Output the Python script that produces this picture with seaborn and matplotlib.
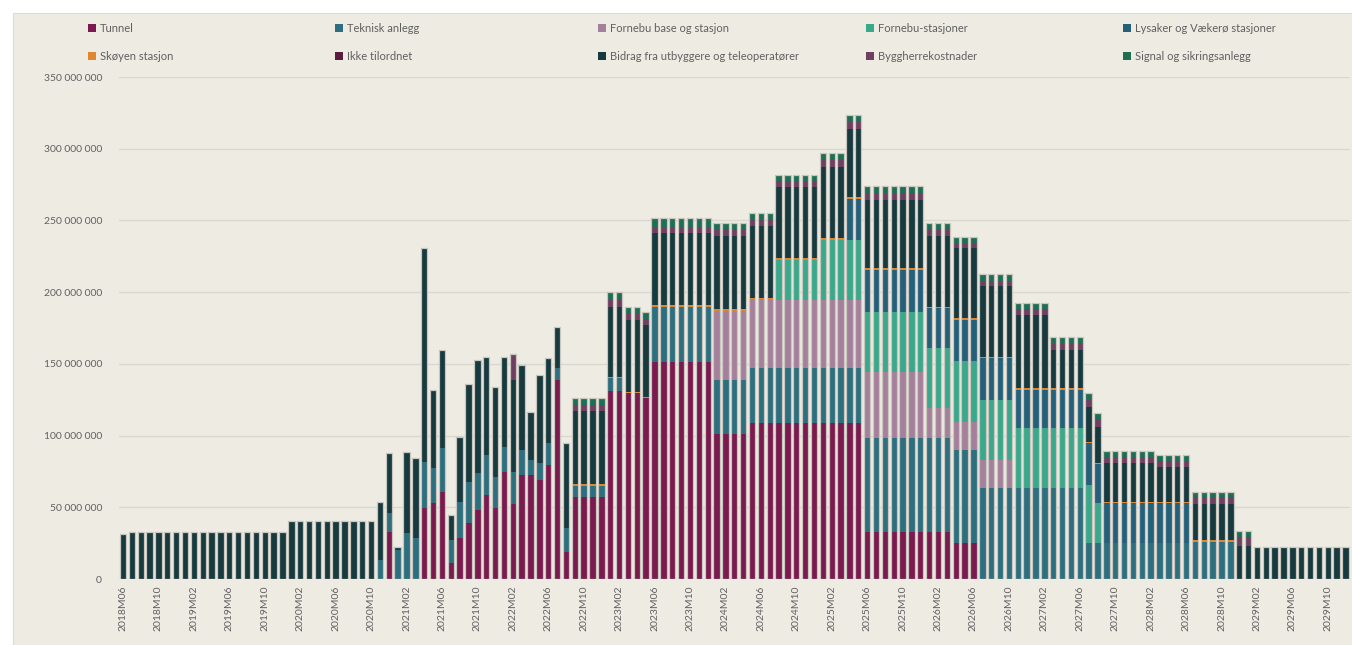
import pandas as pd
import numpy as np
import matplotlib
matplotlib.use("Agg")
import matplotlib.pyplot as plt
from matplotlib.patches import Patch, Rectangle
import seaborn as sns

# Monthly periods on the x axis (2018M06 .. 2029M12)
months = [f"{p.year}M{p.month:02d}" for p in pd.period_range("2018-06", "2029-12", freq="M")]

# Values in million NOK (one value per month)
tunnel = ([0] * 30
          + [33, 0, 0, 0, 49.5, 53, 60.9, 11, 28.6, 39, 48, 58.6, 49.5, 74.6, 52, 72.5, 72.5, 69, 79.5, 139, 19]
          + [57] * 4 + [131] * 2 + [129.5] * 2 + [126] + [151] * 7 + [101] * 4 + [109] * 13
          + [33] * 10 + [25] * 3 + [0] * 42)
teknisk = ([0] * 29
           + [13, 13.2, 20, 32, 28.6, 32.3, 24.4, 30.4, 16, 25.4, 28.9, 26, 27.9, 21.5, 17.4, 22.6, 17.5, 10.5, 12, 15.5, 8, 16.6]
           + [8] * 4 + [9] * 2 + [0] * 3 + [39] * 7 + [38] * 17 + [65.3] * 10 + [65] * 3
           + [63.5] * 12 + [25] * 12 + [26] * 5 + [0] * 13)
fornebu_base = [0] * 67 + [48] * 7 + [47.5] * 10 + [46.3] * 7 + [20.7] * 3 + [19.7] * 3 + [19.5] * 4 + [0] * 38
fornebu_stasjoner = [0] * 74 + [28] * 5 + [42] * 5 + [41.8] * 7 + [42] * 10 + [41.5] * 8 + [40.5, 28] + [0] * 28
lysaker = [0] * 82 + [28.5] * 2 + [29.1] * 7 + [28] * 3 + [29] * 7 + [27] * 8 + [29, 27] + [28] * 10 + [0] * 18
skoyen = [0] * 51 + [1] * 75 + [0] * 13
ikke_tilordnet = [0] * 139
bidrag = ([31.4] + [33] * 18 + [40.7] * 10
          + [40.9, 41.7, 2.5, 56.8, 56, 149, 54.4, 68.4, 17.6, 45.2, 68.1, 79, 68.5, 63, 63, 64.4, 59, 33.5, 61, 59, 29, 59.4]
          + [51] * 4 + [49] * 2 + [50] * 3 + [50] * 7 + [51] * 4 + [50] * 11 + [48] * 9 + [49] * 3
          + [48.9] * 3 + [49] * 4 + [51] * 4 + [27] * 4 + [24.5, 25] + [27] * 6 + [24.4] * 4
          + [25.5] * 5 + [23] * 2 + [22.5] * 11)
byggherre = ([0] * 44 + [18] + [0] * 6 + [4] * 4 + [5] * 2 + [4] * 3 + [4.5] * 7 + [4] * 12 + [4.5] * 5
             + [4] * 10 + [3.5] * 3 + [4] * 12 + [4.7, 5.5] + [4] * 10 + [4.5] * 5 + [6.5] * 2 + [0] * 11)
signal = ([0] * 51 + [5] * 4 + [5] * 2 + [5.5] * 2 + [5] + [6] * 7 + [5] * 7 + [4.5] * 5 + [5] * 5
          + [5.5] * 7 + [5] * 3 + [4.5] * 3 + [4.7] * 4 + [4.5] * 4 + [5] * 5 + [4.2] + [4] * 10
          + [4] * 5 + [4.2] * 2 + [0] * 11)

series_names = ["Tunnel", "Teknisk anlegg", "Fornebu base og stasjon", "Fornebu-stasjoner",
                "Lysaker og Vækerø stasjoner", "Skøyen stasjon", "Ikke tilordnet",
                "Bidrag fra utbyggere og teleoperatører", "Byggherrekostnader", "Signal og sikringsanlegg"]
series_values = [tunnel, teknisk, fornebu_base, fornebu_stasjoner, lysaker, skoyen,
                 ikke_tilordnet, bidrag, byggherre, signal]
colors = ["#7a1a4e", "#2d6f7e", "#a5809c", "#3aa88a", "#24607a",
          "#e0862e", "#5c1c3e", "#173a3e", "#6e3f60", "#1d6e52"]

df = pd.DataFrame({name: np.array(vals) * 1e6 for name, vals in zip(series_names, series_values)})
df["month"] = months
cum = df[series_names].cumsum(axis=1)

bg = "#eeebe3"
sns.set_style("white")
plt.rcParams["font.family"] = ["Lato", "DejaVu Sans"]

fig = plt.figure(figsize=(13.52, 6.45), dpi=100, facecolor="white")
fig.patches.append(Rectangle((0.0096, 0), 0.9904, 0.98, transform=fig.transFigure,
                             facecolor=bg, edgecolor="#dedbd4", linewidth=0.8, zorder=-10))
ax = fig.add_axes([0.0877, 0.1023, 0.9108, 0.7783])
ax.set_facecolor(bg)

# stacked bars: draw cumulative totals from the top series down
for k in range(len(series_names) - 1, -1, -1):
    sns.barplot(x=months, y=cum[series_names[k]].values, order=months, color=colors[k],
                saturation=1, width=0.72, linewidth=0, errorbar=None, ax=ax, zorder=3)
# light outline around each bar
sns.barplot(x=months, y=cum[series_names[-1]].values, order=months, color="#c9c6c0",
            saturation=1, width=0.72, fill=False, linewidth=0.9, errorbar=None, ax=ax, zorder=4)

ax.set_xlim(-0.5, len(months) - 0.5)
ax.set_ylim(0, 350e6)
ax.set_yticks(np.arange(0, 350e6 + 1, 50e6))
ax.set_yticklabels([f"{int(v):,}".replace(",", " ") for v in np.arange(0, 350e6 + 1, 50e6)])
ax.set_xticks(range(0, len(months), 4))
ax.set_xticklabels(months[::4], rotation=90)
ax.tick_params(axis="both", length=0, labelsize=7.5, labelcolor="#606060")
ax.tick_params(axis="y", pad=12)
ax.tick_params(axis="x", pad=5)
ax.yaxis.grid(True, color="#dad7d0", linewidth=1, zorder=0)
ax.set_axisbelow(True)
ax.set_xlabel("")
ax.set_ylabel("")
for s in ax.spines.values():
    s.set_visible(False)

# legend: two rows, five evenly spaced columns
col_x = [0.0651, 0.2478, 0.4423, 0.6405, 0.8306]
for c in range(5):
    idx = [c, c + 5]
    handles = [Patch(facecolor=colors[i], edgecolor="none") for i in idx]
    fig.legend(handles, [series_names[i] for i in idx], loc="upper left",
               bbox_to_anchor=(col_x[c], 0.965), frameon=False, fontsize=8,
               handlelength=0.75, handleheight=0.75, handletextpad=0.3,
               labelspacing=1.55, borderpad=0, borderaxespad=0, labelcolor="#606060")

fig.savefig("out.png", dpi=100, facecolor=fig.get_facecolor())
